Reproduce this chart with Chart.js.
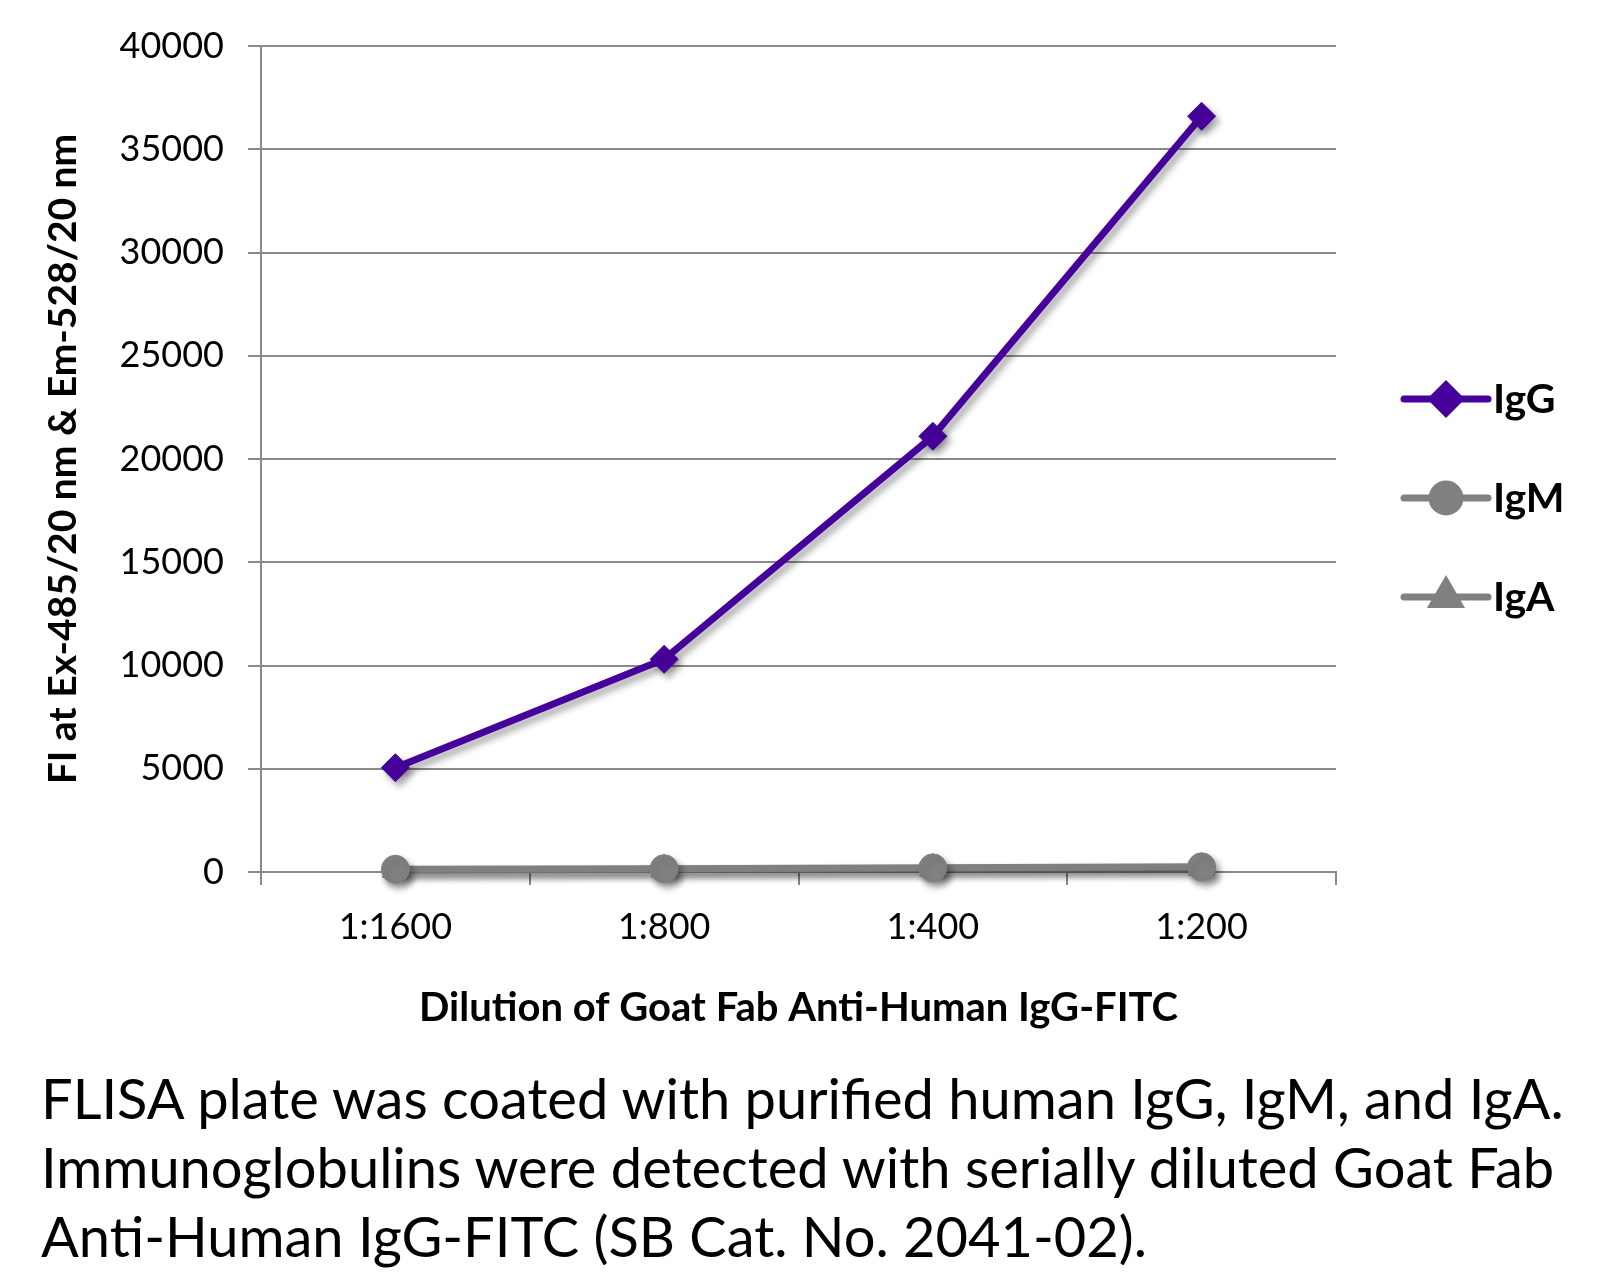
<!DOCTYPE html>
<html>
<head>
<meta charset="utf-8">
<script src="https://cdn.jsdelivr.net/npm/chart.js"></script>
<style>
  body { margin: 0; background: #fff; width: 1605px; height: 1274px; overflow: hidden; }
  #wrap { position: absolute; left: 0; top: 0; width: 1605px; height: 1040px; }
  #caption {
    position: absolute; left: 41px; top: 1063px;
    font-family: Lato, sans-serif; font-size: 56px; line-height: 69px; color: #000;
    white-space: nowrap;
  }
</style>
</head>
<body>
<div id="wrap"><canvas id="c" width="1605" height="1040"></canvas></div>
<div id="caption">FLISA plate was coated with purified human IgG, IgM, and IgA.<br>Immunoglobulins were detected with serially diluted Goat Fab<br>Anti-Human IgG-FITC (SB Cat. No. 2041-02).</div>

<script>
const categories = ['1:1600', '1:800', '1:400', '1:200'];
const igG = [5050, 10300, 21100, 36600];
const igM = [130, 160, 200, 250];
const igA = [100, 130, 170, 220];
const yMax = 40000;
const yStep = 5000;

const purple = '#46009b';
const grey = '#808080';
const gridGrey = '#8a8a8a';

// drop shadow under the lines and markers
const shadowPlugin = {
  id: 'shadow',
  beforeDatasetsDraw(chart) {
    const ctx = chart.ctx;
    ctx.save();
    ctx.shadowColor = 'rgba(0,0,0,0.35)';
    ctx.shadowBlur = 7;
    ctx.shadowOffsetX = 4;
    ctx.shadowOffsetY = 5;
  },
  afterDatasetsDraw(chart) {
    chart.ctx.restore();
  }
};

// legend on the right: line + marker + bold label
const sideLegend = {
  id: 'sideLegend',
  afterDraw(chart) {
    const ctx = chart.ctx;
    const rows = [399, 498, 597];
    chart.data.datasets.forEach((ds, i) => {
      const y = rows[i];
      ctx.save();
      ctx.strokeStyle = ds.borderColor;
      ctx.lineWidth = ds.borderWidth;
      ctx.lineCap = 'round';
      ctx.beginPath();
      ctx.moveTo(1404, y);
      ctx.lineTo(1488, y);
      ctx.stroke();
      ctx.fillStyle = ds.pointBackgroundColor;
      ctx.strokeStyle = ds.pointBorderColor;
      Chart.helpers.drawPoint(ctx, {
        pointStyle: ds.pointStyle, radius: ds.pointRadius, rotation: 0, borderWidth: 1
      }, 1446, y);
      ctx.fillStyle = '#000';
      ctx.font = 'bold 41px Lato';
      ctx.textBaseline = 'middle';
      ctx.textAlign = 'left';
      ctx.fillText(ds.label, 1493, y + 1);
      ctx.restore();
    });
  }
};

const common = { borderWidth: 7, clip: false, tension: 0, pointBorderWidth: 1 };

new Chart(document.getElementById('c'), {
  type: 'line',
  data: {
    labels: categories,
    datasets: [
      Object.assign({
        label: 'IgG', data: igG, borderColor: purple, pointBackgroundColor: purple,
        pointBorderColor: purple, pointStyle: 'rectRot', pointRadius: 14
      }, common),
      Object.assign({
        label: 'IgM', data: igM, borderColor: grey, pointBackgroundColor: grey,
        pointBorderColor: grey, pointStyle: 'circle', pointRadius: 14
      }, common),
      Object.assign({
        label: 'IgA', data: igA, borderColor: grey, pointBackgroundColor: grey,
        pointBorderColor: grey, pointStyle: 'triangle', pointRadius: 15
      }, common)
    ]
  },
  options: {
    responsive: false,
    animation: false,
    layout: { padding: { top: 46, right: 269, left: 0, bottom: 0 } },
    plugins: { legend: { display: false }, tooltip: { enabled: false } },
    scales: {
      x: {
        offset: true,
        grid: { offset: true, drawOnChartArea: false, drawTicks: true, tickLength: 13, color: gridGrey, lineWidth: 2 },
        border: { color: gridGrey, width: 2 },
        ticks: { color: '#000', font: { family: 'Lato', size: 36 }, padding: 21 },
        title: {
          display: true, text: 'Dilution of Goat Fab Anti-Human IgG-FITC', color: '#000',
          font: { family: 'Lato', size: 40, weight: 'bold' }, padding: { top: 0, bottom: 8 }
        },
        afterFit(scale) { scale.height = 168; }
      },
      y: {
        min: 0, max: yMax,
        grid: { color: gridGrey, lineWidth: 2, tickLength: 13 },
        border: { color: gridGrey, width: 2 },
        ticks: {
          stepSize: yStep, color: '#000', font: { family: 'Lato', size: 36 }, padding: 24,
          callback: v => String(v)
        },
        title: {
          display: true, text: 'FI at Ex-485/20 nm & Em-528/20 nm', color: '#000',
          font: { family: 'Lato', size: 39, weight: 'bold' }, padding: { top: 40, bottom: 0 }
        },
        afterFit(scale) { scale.width = 261; }
      }
    }
  },
  plugins: [shadowPlugin, sideLegend]
});
</script>
</body>
</html>
